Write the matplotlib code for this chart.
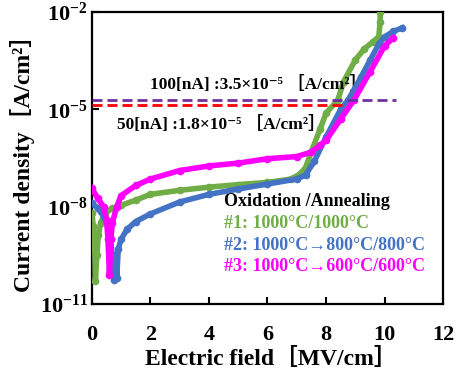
import matplotlib
matplotlib.use("Agg")
import matplotlib.pyplot as plt
from matplotlib.ticker import FixedLocator, NullLocator

SERIF = ['Liberation Serif', 'DejaVu Serif', 'Noto Sans CJK JP']
plt.rcParams['mathtext.fontset'] = 'custom'
plt.rcParams['mathtext.rm'] = 'Liberation Serif:bold'
plt.rcParams['mathtext.bf'] = 'Liberation Serif:bold'
plt.rcParams['mathtext.it'] = 'Liberation Serif:bold'

# #1: 1000C/1000C
x1 = [0.0, 0.05, 0.1, 0.12, 0.17, 0.22, 0.3, 0.45, 0.7, 1.0, 1.5, 2.0, 3.0, 4.0, 5.0, 6.0, 6.8,
      7.1, 7.3, 7.5, 7.8, 8.0, 8.4, 8.6, 9.0, 9.3, 9.6, 9.8, 9.85, 9.85]
j1 = [6.3e-9, 2.5e-9, 5.0e-10, 5.0e-11, 3.2e-10, 1.3e-9, 3.2e-9, 6.3e-9, 8.9e-9, 1.1e-8, 1.6e-8,
      2.4e-8, 3.2e-8, 4.0e-8, 4.8e-8, 5.6e-8, 7.1e-8,
      1.0e-7, 1.6e-7, 5.0e-7, 2.5e-6, 7.6e-6, 1.9e-5, 7.1e-5, 3.3e-4, 7.1e-4, 1.2e-3, 1.7e-3, 5.0e-3, 1.0e-2]

# #2: 1000C->800C/800C
x2 = [0.0, 0.2, 0.4, 0.55, 0.65, 0.7, 0.75, 0.8, 0.85, 0.9, 1.0, 1.2, 1.5, 2.0, 3.0, 4.0, 5.0, 6.0,
      7.0, 7.3, 7.6, 8.0, 8.5, 8.75, 9.2, 9.5, 9.8, 10.0, 10.3, 10.6]
j2 = [1.3e-8, 8.9e-9, 5.0e-9, 2.5e-9, 1.0e-9, 2.5e-10, 5.6e-11, 3.2e-10, 6.3e-11, 5.0e-10, 1.0e-9,
      2.0e-9, 3.5e-9, 6.0e-9, 1.4e-8, 2.4e-8, 3.5e-8, 5.0e-8,
      7.1e-8, 9.5e-8, 2.5e-7, 1.4e-6, 1.0e-5, 1.9e-5, 1.0e-4, 3.2e-4, 1.0e-3, 1.7e-3, 2.5e-3, 3.2e-3]

# #3: 1000C->600C/600C
x3 = [0.0, 0.2, 0.4, 0.5, 0.55, 0.6, 0.65, 0.7, 0.85, 1.0, 1.5, 2.0, 3.0, 4.0, 5.0, 6.0, 7.0,
      7.5, 7.8, 8.0, 8.5, 8.95, 9.5, 10.0, 10.3]
j3 = [3.7e-8, 1.8e-8, 1.0e-8, 4.0e-9, 1.0e-9, 8.0e-11, 1.0e-9, 3.2e-9, 1.0e-8, 2.2e-8, 4.5e-8,
      7.1e-8, 1.3e-7, 1.8e-7, 2.2e-7, 3.0e-7, 3.5e-7,
      4.8e-7, 7.9e-7, 1.1e-6, 5.0e-6, 1.9e-5, 1.4e-4, 8.9e-4, 1.6e-3]

# criterion lines
j_100nA = 1.9e-5
j_50nA = 1.35e-5
x_100nA_end = 10.4
x_50nA_end = 8.65

y_ticks = [1e-11, 1e-8, 1e-5, 1e-2]
y_labels = [r'$\mathbf{10^{-11}}$', r'$\mathbf{10^{-8}}$', r'$\mathbf{10^{-5}}$', r'$\mathbf{10^{-2}}$']

fig = plt.figure(figsize=(4.64, 3.70), dpi=100)
ax = fig.add_axes([0.198, 0.178, 0.757, 0.79])

ax.plot(x1, j1, color='#70AD47', lw=4, marker='o', ms=4.5, zorder=3)
ax.plot(x2, j2, color='#4472C4', lw=4, marker='o', ms=4.5, zorder=4)
ax.plot(x3, j3, color='#FF00FF', lw=4, marker='o', ms=4.5, zorder=5)

ax.plot([0, x_100nA_end], [j_100nA, j_100nA], color='#7030A0', lw=2, ls=(0, (3.6, 1.8)), zorder=6)
ax.plot([0, x_50nA_end], [j_50nA, j_50nA], color='#FF0000', lw=2, ls=(0, (3.6, 1.8)), zorder=6)

ax.set_yscale('log')
ax.set_xlim(0, 12)
ax.set_ylim(1e-11, 1e-2)
ax.yaxis.set_major_locator(FixedLocator(y_ticks))
ax.yaxis.set_minor_locator(NullLocator())
ax.set_yticks(y_ticks)
ax.set_yticklabels(y_labels)
ax.set_xticks(range(0, 13, 2))

for lab in ax.get_xticklabels() + ax.get_yticklabels():
    lab.set_family(SERIF)
    lab.set_fontweight('bold')
    lab.set_fontsize(16)

ax.tick_params(direction='in', length=5, width=1.5)
ax.tick_params(axis='x', pad=15)
ax.tick_params(axis='y', pad=3)
for s in ax.spines.values():
    s.set_linewidth(1.6)

ax.set_xlabel('Electric field［MV/cm］', family=SERIF, fontweight='bold', fontsize=17)
ax.xaxis.set_label_coords(0.51, -0.15)
ax.set_ylabel('Current density［A/cm²］', family=SERIF, fontweight='bold', fontsize=17)
ax.yaxis.set_label_coords(-0.162, 0.5)

ax.text(2.0, 6.0e-5, '100[nA] :3.5×10⁻⁵ ［A/cm²］', family=SERIF, fontweight='bold', fontsize=12.5,
        va='center')
ax.text(0.85, 3.5e-6, '50[nA] :1.8×10⁻⁵ ［A/cm²］', family=SERIF, fontweight='bold', fontsize=12.5,
        va='center')

ax.text(4.5, 1.4e-8, 'Oxidation /Annealing', family=SERIF, fontweight='bold', fontsize=13,
        va='center', color='black')
ax.text(4.5, 3.0e-9, '#1: 1000°C/1000°C', family=SERIF, fontweight='bold', fontsize=13,
        va='center', color='#70AD47')
ax.text(4.5, 6.5e-10, '#2: 1000°C→800°C/800°C', family=SERIF, fontweight='bold', fontsize=13,
        va='center', color='#4472C4')
ax.text(4.5, 1.4e-10, '#3: 1000°C→600°C/600°C', family=SERIF, fontweight='bold', fontsize=13,
        va='center', color='#FF00FF')

fig.savefig('out.png', dpi=100)
